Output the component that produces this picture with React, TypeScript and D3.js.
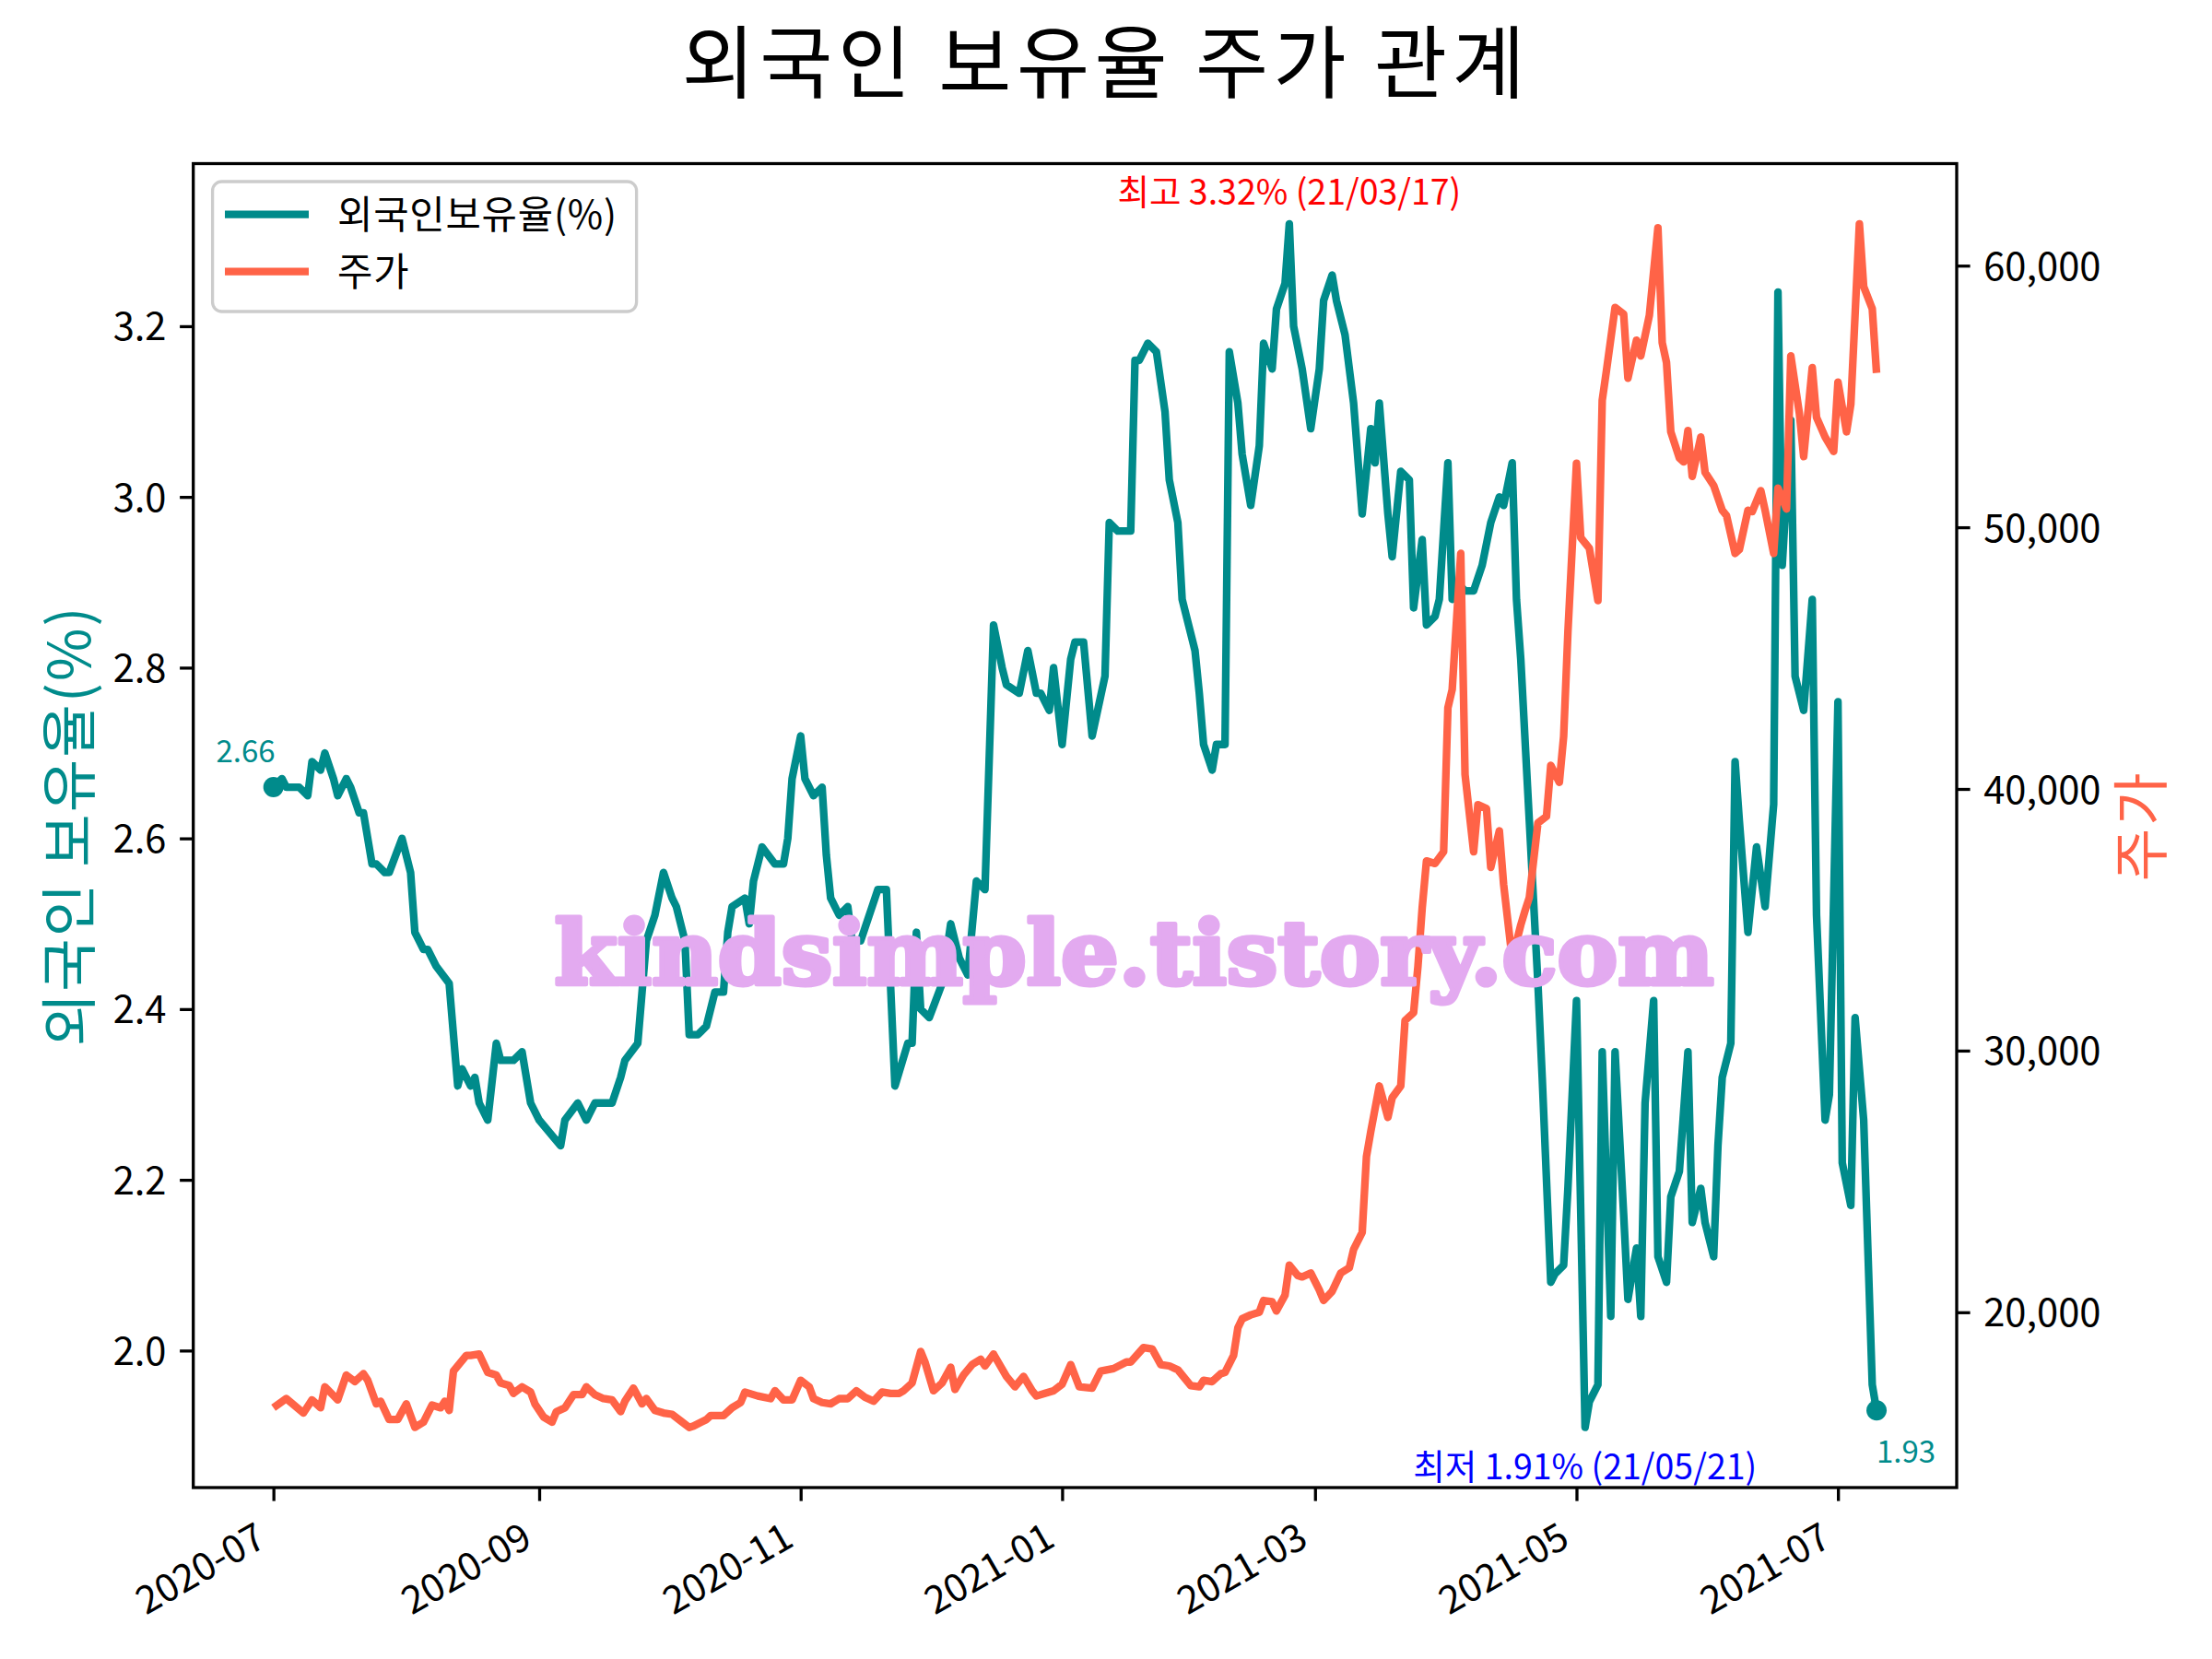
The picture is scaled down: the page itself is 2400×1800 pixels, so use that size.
import { useEffect, useRef } from "react";
import * as d3 from "d3";

const TITLE = "외국인 보유율 주가 관계";
const RATIO_NAME = "외국인보유율(%)";
const PRICE_NAME = "주가";
const RATIO_AXIS_LABEL = "외국인 보유율(%)";
const WATERMARK = "kindsimple.tistory.com";
const MAX_NOTE = "최고 3.32% (21/03/17)";
const MIN_NOTE = "최저 1.91% (21/05/21)";

const RATIO_TICKS = [2.0, 2.2, 2.4, 2.6, 2.8, 3.0, 3.2];
const PRICE_TICKS = [20000, 30000, 40000, 50000, 60000];
const MONTH_TICKS = ["2020-07-01", "2020-09-01", "2020-11-01", "2021-01-01", "2021-03-01", "2021-05-01", "2021-07-01"];

// 외국인 보유율 (%)
const ratioSeries: [string, number][] = [
  ["2020-07-01", 2.66], ["2020-07-03", 2.67], ["2020-07-04", 2.66], ["2020-07-07", 2.66], ["2020-07-09", 2.65],
  ["2020-07-10", 2.69], ["2020-07-12", 2.68], ["2020-07-13", 2.7], ["2020-07-15", 2.67], ["2020-07-16", 2.65],
  ["2020-07-18", 2.67], ["2020-07-19", 2.66], ["2020-07-21", 2.63], ["2020-07-22", 2.63], ["2020-07-24", 2.57],
  ["2020-07-25", 2.57], ["2020-07-27", 2.56], ["2020-07-28", 2.56], ["2020-07-31", 2.6], ["2020-08-02", 2.56],
  ["2020-08-03", 2.49], ["2020-08-05", 2.47], ["2020-08-06", 2.47], ["2020-08-08", 2.45], ["2020-08-11", 2.43],
  ["2020-08-13", 2.31], ["2020-08-14", 2.33], ["2020-08-16", 2.31], ["2020-08-17", 2.32], ["2020-08-18", 2.29],
  ["2020-08-20", 2.27], ["2020-08-22", 2.36], ["2020-08-23", 2.34], ["2020-08-26", 2.34], ["2020-08-28", 2.35],
  ["2020-08-30", 2.29], ["2020-09-01", 2.27], ["2020-09-06", 2.24], ["2020-09-07", 2.27], ["2020-09-10", 2.29],
  ["2020-09-12", 2.27], ["2020-09-14", 2.29], ["2020-09-18", 2.29], ["2020-09-20", 2.32], ["2020-09-21", 2.34],
  ["2020-09-24", 2.36], ["2020-09-26", 2.48], ["2020-09-28", 2.51], ["2020-09-30", 2.56], ["2020-10-02", 2.53],
  ["2020-10-03", 2.52], ["2020-10-05", 2.48], ["2020-10-06", 2.37], ["2020-10-08", 2.37], ["2020-10-10", 2.38],
  ["2020-10-12", 2.42], ["2020-10-14", 2.42], ["2020-10-15", 2.49], ["2020-10-16", 2.52], ["2020-10-19", 2.53],
  ["2020-10-20", 2.5], ["2020-10-21", 2.55], ["2020-10-23", 2.59], ["2020-10-26", 2.57], ["2020-10-28", 2.57],
  ["2020-10-29", 2.6], ["2020-10-30", 2.67], ["2020-11-01", 2.72], ["2020-11-02", 2.67], ["2020-11-04", 2.65],
  ["2020-11-06", 2.66], ["2020-11-07", 2.58], ["2020-11-08", 2.53], ["2020-11-10", 2.51], ["2020-11-12", 2.52],
  ["2020-11-13", 2.48], ["2020-11-15", 2.48], ["2020-11-19", 2.54], ["2020-11-21", 2.54], ["2020-11-23", 2.31],
  ["2020-11-26", 2.36], ["2020-11-27", 2.36], ["2020-11-28", 2.49], ["2020-11-29", 2.4], ["2020-12-01", 2.39],
  ["2020-12-04", 2.43], ["2020-12-06", 2.5], ["2020-12-08", 2.46], ["2020-12-10", 2.44], ["2020-12-12", 2.55],
  ["2020-12-14", 2.54], ["2020-12-16", 2.85], ["2020-12-18", 2.8], ["2020-12-19", 2.78], ["2020-12-22", 2.77],
  ["2020-12-24", 2.82], ["2020-12-26", 2.77], ["2020-12-27", 2.77], ["2020-12-29", 2.75], ["2020-12-30", 2.8],
  ["2021-01-01", 2.71], ["2021-01-03", 2.81], ["2021-01-04", 2.83], ["2021-01-06", 2.83], ["2021-01-08", 2.72],
  ["2021-01-11", 2.79], ["2021-01-12", 2.97], ["2021-01-14", 2.96], ["2021-01-17", 2.96], ["2021-01-18", 3.16],
  ["2021-01-19", 3.16], ["2021-01-21", 3.18], ["2021-01-23", 3.17], ["2021-01-25", 3.1], ["2021-01-26", 3.02],
  ["2021-01-28", 2.97], ["2021-01-29", 2.88], ["2021-02-01", 2.82], ["2021-02-02", 2.77], ["2021-02-03", 2.71],
  ["2021-02-05", 2.68], ["2021-02-06", 2.71], ["2021-02-08", 2.71], ["2021-02-09", 3.17], ["2021-02-11", 3.11],
  ["2021-02-12", 3.05], ["2021-02-14", 2.99], ["2021-02-16", 3.06], ["2021-02-17", 3.18], ["2021-02-19", 3.15],
  ["2021-02-20", 3.22], ["2021-02-22", 3.25], ["2021-02-23", 3.32], ["2021-02-24", 3.2], ["2021-02-26", 3.15],
  ["2021-02-28", 3.08], ["2021-03-02", 3.15], ["2021-03-03", 3.23], ["2021-03-05", 3.26], ["2021-03-06", 3.23],
  ["2021-03-08", 3.19], ["2021-03-10", 3.11], ["2021-03-12", 2.98], ["2021-03-14", 3.08], ["2021-03-15", 3.04],
  ["2021-03-16", 3.11], ["2021-03-18", 2.98], ["2021-03-19", 2.93], ["2021-03-21", 3.03], ["2021-03-23", 3.02],
  ["2021-03-24", 2.87], ["2021-03-26", 2.95], ["2021-03-27", 2.85], ["2021-03-29", 2.86], ["2021-03-30", 2.88],
  ["2021-04-01", 3.04], ["2021-04-02", 2.88], ["2021-04-03", 2.9], ["2021-04-05", 2.89], ["2021-04-07", 2.89],
  ["2021-04-09", 2.92], ["2021-04-11", 2.97], ["2021-04-13", 3.0], ["2021-04-14", 2.99], ["2021-04-16", 3.04],
  ["2021-04-17", 2.88], ["2021-04-18", 2.81], ["2021-04-20", 2.62], ["2021-04-22", 2.43], ["2021-04-23", 2.32],
  ["2021-04-25", 2.08], ["2021-04-26", 2.09], ["2021-04-28", 2.1], ["2021-04-29", 2.19], ["2021-05-01", 2.41],
  ["2021-05-03", 1.91], ["2021-05-04", 1.94], ["2021-05-06", 1.96], ["2021-05-07", 2.35], ["2021-05-09", 2.04],
  ["2021-05-10", 2.35], ["2021-05-12", 2.16], ["2021-05-13", 2.06], ["2021-05-15", 2.12], ["2021-05-16", 2.04],
  ["2021-05-17", 2.29], ["2021-05-19", 2.41], ["2021-05-20", 2.11], ["2021-05-22", 2.08], ["2021-05-23", 2.18],
  ["2021-05-25", 2.21], ["2021-05-27", 2.35], ["2021-05-28", 2.15], ["2021-05-30", 2.19], ["2021-05-31", 2.15],
  ["2021-06-02", 2.11], ["2021-06-03", 2.24], ["2021-06-04", 2.32], ["2021-06-06", 2.36], ["2021-06-07", 2.69],
  ["2021-06-08", 2.62], ["2021-06-10", 2.49], ["2021-06-11", 2.54], ["2021-06-12", 2.59], ["2021-06-14", 2.52],
  ["2021-06-16", 2.64], ["2021-06-17", 3.24], ["2021-06-18", 2.92], ["2021-06-20", 3.09], ["2021-06-21", 2.79],
  ["2021-06-23", 2.75], ["2021-06-25", 2.88], ["2021-06-26", 2.51], ["2021-06-28", 2.27], ["2021-06-29", 2.3],
  ["2021-07-01", 2.76], ["2021-07-02", 2.22], ["2021-07-04", 2.17], ["2021-07-05", 2.39], ["2021-07-07", 2.27],
  ["2021-07-09", 1.96], ["2021-07-10", 1.93],
];

// 주가 (원)
const priceSeries: [string, number][] = [
  ["2020-07-01", 16350], ["2020-07-04", 16700], ["2020-07-08", 16150], ["2020-07-10", 16650], ["2020-07-12", 16350],
  ["2020-07-13", 17150], ["2020-07-16", 16650], ["2020-07-18", 17600], ["2020-07-20", 17350], ["2020-07-22", 17650],
  ["2020-07-23", 17400], ["2020-07-25", 16500], ["2020-07-26", 16600], ["2020-07-28", 15900], ["2020-07-30", 15900],
  ["2020-08-01", 16500], ["2020-08-03", 15600], ["2020-08-05", 15800], ["2020-08-07", 16450], ["2020-08-09", 16350],
  ["2020-08-10", 16600], ["2020-08-11", 16250], ["2020-08-12", 17750], ["2020-08-15", 18350], ["2020-08-16", 18350],
  ["2020-08-18", 18400], ["2020-08-20", 17700], ["2020-08-22", 17600], ["2020-08-23", 17300], ["2020-08-25", 17200],
  ["2020-08-26", 16900], ["2020-08-28", 17150], ["2020-08-30", 16950], ["2020-08-31", 16500], ["2020-09-02", 16000],
  ["2020-09-04", 15800], ["2020-09-05", 16200], ["2020-09-07", 16350], ["2020-09-09", 16850], ["2020-09-11", 16850],
  ["2020-09-12", 17150], ["2020-09-14", 16850], ["2020-09-16", 16700], ["2020-09-18", 16650], ["2020-09-20", 16200],
  ["2020-09-21", 16600], ["2020-09-23", 17100], ["2020-09-25", 16500], ["2020-09-26", 16700], ["2020-09-28", 16250],
  ["2020-09-30", 16150], ["2020-10-02", 16100], ["2020-10-04", 15850], ["2020-10-06", 15600], ["2020-10-07", 15650],
  ["2020-10-10", 15900], ["2020-10-11", 16050], ["2020-10-13", 16050], ["2020-10-14", 16050], ["2020-10-16", 16350],
  ["2020-10-18", 16550], ["2020-10-19", 16950], ["2020-10-22", 16800], ["2020-10-25", 16700], ["2020-10-26", 17000],
  ["2020-10-28", 16650], ["2020-10-30", 16650], ["2020-11-01", 17400], ["2020-11-03", 17150], ["2020-11-04", 16700],
  ["2020-11-06", 16550], ["2020-11-08", 16500], ["2020-11-10", 16700], ["2020-11-12", 16700], ["2020-11-14", 17000],
  ["2020-11-16", 16750], ["2020-11-18", 16600], ["2020-11-20", 16950], ["2020-11-22", 16900], ["2020-11-24", 16900],
  ["2020-11-25", 17000], ["2020-11-27", 17300], ["2020-11-29", 18500], ["2020-11-30", 18100], ["2020-12-02", 17000],
  ["2020-12-04", 17300], ["2020-12-06", 17900], ["2020-12-07", 17050], ["2020-12-09", 17600], ["2020-12-11", 18000],
  ["2020-12-13", 18200], ["2020-12-14", 17950], ["2020-12-16", 18400], ["2020-12-19", 17550], ["2020-12-21", 17150],
  ["2020-12-23", 17550], ["2020-12-25", 17000], ["2020-12-26", 16800], ["2020-12-28", 16900], ["2020-12-30", 17000],
  ["2021-01-01", 17250], ["2021-01-03", 18000], ["2021-01-05", 17150], ["2021-01-08", 17100], ["2021-01-10", 17750],
  ["2021-01-13", 17850], ["2021-01-16", 18100], ["2021-01-17", 18100], ["2021-01-20", 18650], ["2021-01-22", 18600],
  ["2021-01-24", 18000], ["2021-01-26", 17950], ["2021-01-28", 17800], ["2021-01-31", 17200], ["2021-02-02", 17150],
  ["2021-02-03", 17400], ["2021-02-05", 17350], ["2021-02-07", 17650], ["2021-02-08", 17700], ["2021-02-10", 18350],
  ["2021-02-11", 19400], ["2021-02-12", 19750], ["2021-02-14", 19900], ["2021-02-16", 20000], ["2021-02-17", 20450],
  ["2021-02-19", 20400], ["2021-02-20", 20050], ["2021-02-22", 20650], ["2021-02-23", 21800], ["2021-02-25", 21400],
  ["2021-02-26", 21350], ["2021-02-28", 21500], ["2021-03-02", 20850], ["2021-03-03", 20450], ["2021-03-05", 20800],
  ["2021-03-07", 21500], ["2021-03-09", 21700], ["2021-03-10", 22400], ["2021-03-12", 23050], ["2021-03-13", 25950],
  ["2021-03-14", 26900], ["2021-03-16", 28650], ["2021-03-18", 27450], ["2021-03-19", 28200], ["2021-03-21", 28650],
  ["2021-03-22", 31150], ["2021-03-24", 31450], ["2021-03-25", 33200], ["2021-03-26", 35450], ["2021-03-27", 37250],
  ["2021-03-29", 37150], ["2021-03-31", 37600], ["2021-04-01", 43100], ["2021-04-02", 43800], ["2021-04-04", 49000],
  ["2021-04-05", 40550], ["2021-04-07", 37600], ["2021-04-08", 39400], ["2021-04-10", 39250], ["2021-04-11", 37000],
  ["2021-04-13", 38400], ["2021-04-14", 36350], ["2021-04-16", 33500], ["2021-04-18", 34800], ["2021-04-19", 35350],
  ["2021-04-20", 35850], ["2021-04-22", 38700], ["2021-04-24", 38950], ["2021-04-25", 40900], ["2021-04-27", 40250],
  ["2021-04-28", 42000], ["2021-04-29", 46000], ["2021-05-01", 52450], ["2021-05-02", 49600], ["2021-05-04", 49200],
  ["2021-05-06", 47200], ["2021-05-07", 54850], ["2021-05-08", 56000], ["2021-05-10", 58400], ["2021-05-12", 58150],
  ["2021-05-13", 55700], ["2021-05-15", 57150], ["2021-05-16", 56550], ["2021-05-18", 58100], ["2021-05-20", 61450],
  ["2021-05-21", 57050], ["2021-05-22", 56300], ["2021-05-23", 53650], ["2021-05-25", 52650], ["2021-05-26", 52500],
  ["2021-05-27", 53700], ["2021-05-28", 51950], ["2021-05-30", 53450], ["2021-05-31", 52100], ["2021-06-02", 51600],
  ["2021-06-04", 50650], ["2021-06-05", 50450], ["2021-06-07", 49000], ["2021-06-08", 49150], ["2021-06-10", 50650],
  ["2021-06-11", 50600], ["2021-06-13", 51400], ["2021-06-14", 50650], ["2021-06-16", 49000], ["2021-06-17", 51500],
  ["2021-06-19", 50700], ["2021-06-20", 56550], ["2021-06-22", 54350], ["2021-06-23", 52700], ["2021-06-25", 56100],
  ["2021-06-26", 54200], ["2021-06-28", 53450], ["2021-06-30", 52900], ["2021-07-01", 55550], ["2021-07-03", 53650],
  ["2021-07-04", 54700], ["2021-07-06", 61600], ["2021-07-07", 59200], ["2021-07-09", 58350], ["2021-07-10", 55900],
];

interface Point {
  date: Date;
  value: number;
}

// matplotlib-style 5% margin around the data
function padded(lo: number, hi: number): [number, number] {
  const span = hi - lo;
  return [lo - span * 0.05, hi + span * 0.05];
}

export default function App() {
  const ref = useRef<SVGSVGElement | null>(null);

  useEffect(() => {
    if (!ref.current) return;

    const width = 2400;
    const height = 1800;
    const frame = { left: 209.7, right: 2123, top: 177.5, bottom: 1614 };
    const font = "'Noto Sans CJK KR', 'Noto Sans', sans-serif";
    const teal = "#008b8b";
    const tomato = "#ff6347";
    const tickLen = 14.6;
    const tickPad = 14.6;
    const spine = 3.3;
    const lineWidth = 8.3;

    const svg = d3.select(ref.current);
    svg.selectAll("*").remove();
    svg
      .attr("viewBox", `0 0 ${width} ${height}`)
      .attr("width", width)
      .attr("height", height)
      .style("font-family", font);

    svg.append("rect").attr("width", width).attr("height", height).attr("fill", "#ffffff");

    const parse = d3.timeParse("%Y-%m-%d");
    const ratio: Point[] = ratioSeries.map(([d, v]) => ({ date: parse(d) as Date, value: v }));
    const price: Point[] = priceSeries.map(([d, v]) => ({ date: parse(d) as Date, value: v }));

    const times = [...ratio, ...price].map((d) => +d.date);
    const [t0, t1] = padded(d3.min(times)!, d3.max(times)!);
    const x = d3.scaleTime().domain([new Date(t0), new Date(t1)]).range([frame.left, frame.right]);

    const [r0, r1] = d3.extent(ratio, (d) => d.value) as [number, number];
    const yRatio = d3.scaleLinear().domain(padded(r0, r1)).range([frame.bottom, frame.top]);

    const [p0, p1] = d3.extent(price, (d) => d.value) as [number, number];
    const yPrice = d3.scaleLinear().domain(padded(p0, p1)).range([frame.bottom, frame.top]);

    // 외국인 보유율 line
    const ratioLine = d3
      .line<Point>()
      .x((d) => x(d.date))
      .y((d) => yRatio(d.value));

    svg
      .append("path")
      .datum(ratio)
      .attr("fill", "none")
      .attr("stroke", teal)
      .attr("stroke-width", lineWidth)
      .attr("stroke-linejoin", "round")
      .attr("d", ratioLine);

    const first = ratio[0];
    const last = ratio[ratio.length - 1];
    svg
      .append("g")
      .selectAll("circle")
      .data([first, last])
      .join("circle")
      .attr("cx", (d) => x(d.date))
      .attr("cy", (d) => yRatio(d.value))
      .attr("r", 11)
      .attr("fill", teal);

    svg
      .append("text")
      .attr("x", x(first.date) + 2)
      .attr("y", yRatio(first.value) - 27)
      .attr("text-anchor", "end")
      .attr("font-size", 33)
      .attr("fill", teal)
      .text(first.value.toFixed(2));

    svg
      .append("text")
      .attr("x", x(last.date))
      .attr("y", yRatio(last.value) + 57)
      .attr("text-anchor", "start")
      .attr("font-size", 33)
      .attr("fill", teal)
      .text(last.value.toFixed(2));

    const peak = d3.greatest(ratio, (d) => d.value)!;
    const low = d3.least(ratio, (d) => d.value)!;

    svg
      .append("text")
      .attr("x", x(peak.date))
      .attr("y", yRatio(peak.value) - 21)
      .attr("text-anchor", "middle")
      .attr("font-size", 37.5)
      .attr("fill", "#ff0000")
      .text(MAX_NOTE);

    svg
      .append("text")
      .attr("x", x(low.date))
      .attr("y", yRatio(low.value) + 56)
      .attr("text-anchor", "middle")
      .attr("font-size", 37.5)
      .attr("fill", "#0000ff")
      .text(MIN_NOTE);

    // legend
    const legend = svg.append("g");
    legend
      .append("rect")
      .attr("x", 230.6)
      .attr("y", 197)
      .attr("width", 460)
      .attr("height", 141)
      .attr("rx", 10)
      .attr("fill", "#ffffff")
      .attr("fill-opacity", 0.8)
      .attr("stroke", "#cccccc")
      .attr("stroke-width", spine);

    const entries = [
      { name: RATIO_NAME, color: teal },
      { name: PRICE_NAME, color: tomato },
    ];
    const rows = legend
      .selectAll("g.entry")
      .data(entries)
      .join("g")
      .attr("class", "entry")
      .attr("transform", (_, i) => `translate(0,${232.7 + i * 62})`);
    rows
      .append("line")
      .attr("x1", 244)
      .attr("x2", 335)
      .attr("stroke", (d) => d.color)
      .attr("stroke-width", lineWidth);
    rows
      .append("text")
      .attr("x", 366)
      .attr("dy", "0.36em")
      .attr("font-size", 41.7)
      .attr("letter-spacing", 0.8)
      .attr("fill", "#000")
      .text((d) => d.name);

    // 주가 line (twin axis, drawn on top)
    const priceLine = d3
      .line<Point>()
      .x((d) => x(d.date))
      .y((d) => yPrice(d.value));

    svg
      .append("path")
      .datum(price)
      .attr("fill", "none")
      .attr("stroke", tomato)
      .attr("stroke-width", lineWidth)
      .attr("stroke-linejoin", "round")
      .attr("d", priceLine);

    // frame
    svg
      .append("rect")
      .attr("x", frame.left)
      .attr("y", frame.top)
      .attr("width", frame.right - frame.left)
      .attr("height", frame.bottom - frame.top)
      .attr("fill", "none")
      .attr("stroke", "#000")
      .attr("stroke-width", spine);

    const styleAxis = (g: d3.Selection<SVGGElement, unknown, null, undefined>) => {
      g.select(".domain").remove();
      g.selectAll(".tick line").attr("stroke", "#000").attr("stroke-width", spine);
      g.selectAll(".tick text").attr("fill", "#000").attr("font-size", 41.7).attr("font-family", font);
    };

    svg
      .append("g")
      .attr("transform", `translate(${frame.left},0)`)
      .call(
        d3
          .axisLeft(yRatio)
          .tickValues(RATIO_TICKS)
          .tickFormat(d3.format(".1f"))
          .tickSize(tickLen)
          .tickPadding(tickPad)
      )
      .call(styleAxis)
      .call((g) => g.selectAll(".tick text").attr("dy", "0.36em"));

    svg
      .append("g")
      .attr("transform", `translate(${frame.right},0)`)
      .call(
        d3
          .axisRight(yPrice)
          .tickValues(PRICE_TICKS)
          .tickFormat(d3.format(","))
          .tickSize(tickLen)
          .tickPadding(tickPad)
      )
      .call(styleAxis)
      .call((g) => g.selectAll(".tick text").attr("dy", "0.36em"));

    svg
      .append("g")
      .attr("transform", `translate(0,${frame.bottom})`)
      .call(
        d3
          .axisBottom(x)
          .tickValues(MONTH_TICKS.map((d) => parse(d) as Date))
          .tickFormat((d) => d3.timeFormat("%Y-%m")(d as Date))
          .tickSize(tickLen)
          .tickPadding(tickPad)
      )
      .call(styleAxis)
      .call((g) =>
        g
          .selectAll(".tick text")
          .attr("y", 0)
          .attr("dy", 0)
          .attr("text-anchor", "end")
          .attr("transform", `translate(-6,${tickLen + tickPad + 33}) rotate(-30)`)
      );

    // axis labels
    const midY = (frame.top + frame.bottom) / 2;
    svg
      .append("text")
      .attr("transform", `translate(70,${midY}) rotate(-90)`)
      .attr("text-anchor", "middle")
      .attr("dominant-baseline", "central")
      .attr("font-size", 62.5)
      .attr("letter-spacing", 2)
      .attr("fill", teal)
      .text(RATIO_AXIS_LABEL);

    svg
      .append("text")
      .attr("transform", `translate(2318,${midY}) rotate(-90)`)
      .attr("text-anchor", "middle")
      .attr("dominant-baseline", "central")
      .attr("font-size", 62.5)
      .attr("letter-spacing", 3)
      .attr("fill", tomato)
      .text(PRICE_NAME);

    // title
    svg
      .append("text")
      .attr("x", width / 2)
      .attr("y", 62)
      .attr("text-anchor", "middle")
      .attr("dominant-baseline", "central")
      .attr("font-size", 86)
      .attr("letter-spacing", 5.5)
      .attr("fill", "#000")
      .text(TITLE);

    // watermark
    svg
      .append("text")
      .attr("x", 601.5)
      .attr("y", 1068)
      .attr("font-family", "'DejaVu Serif', serif")
      .attr("font-weight", "bold")
      .attr("font-size", 96)
      .attr("textLength", 1258)
      .attr("lengthAdjust", "spacingAndGlyphs")
      .attr("fill", "#e3aaf0")
      .attr("stroke", "#e3aaf0")
      .attr("stroke-width", 5)
      .attr("stroke-linejoin", "round")
      .text(WATERMARK);
  }, []);

  return (
    <svg
      ref={ref}
      role="img"
      aria-label="외국인 보유율 주가 관계 chart"
      style={{ position: "absolute", left: 0, top: 0, display: "block" }}
    />
  );
}
